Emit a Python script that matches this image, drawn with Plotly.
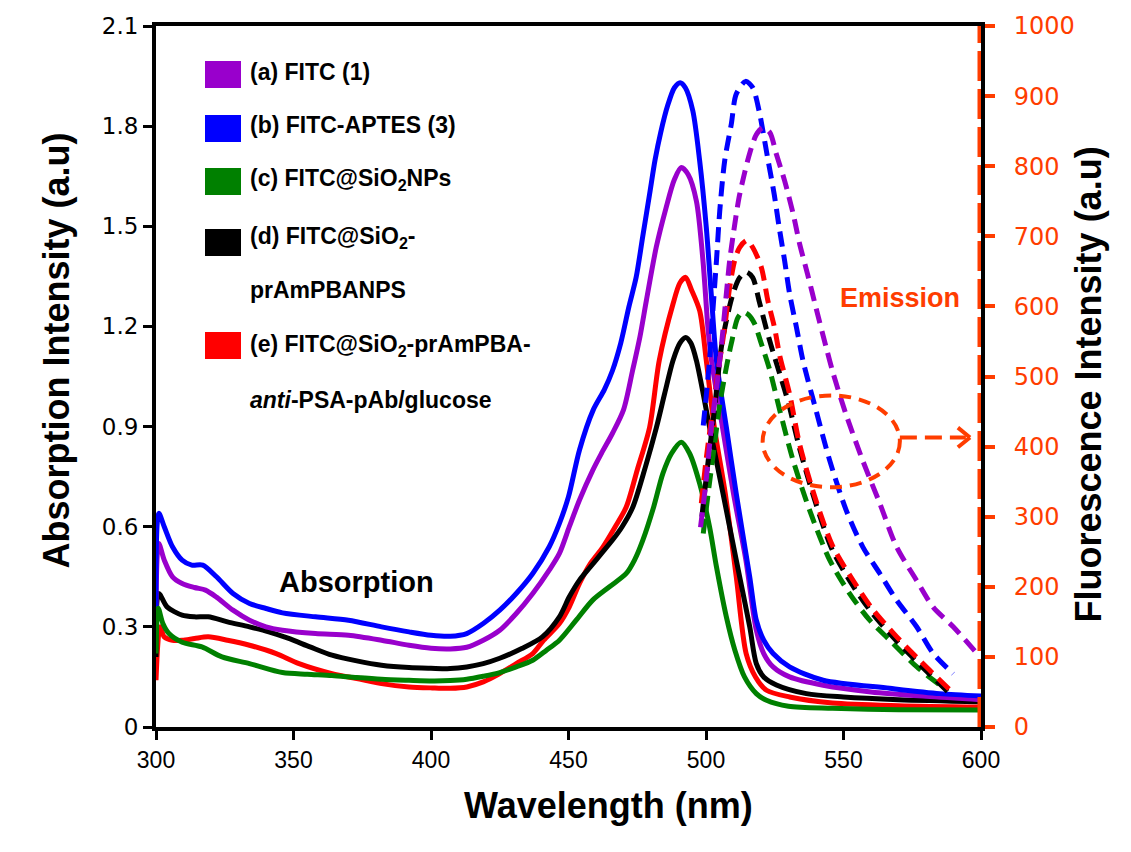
import plotly.graph_objects as go

# ---------------- data ----------------
# Absorption spectra (left axis, a.u.)
abs_a_wl = [300, 301, 303, 306, 309.5, 314, 318, 322, 328, 334, 340, 346, 358, 370, 382, 392, 400, 407, 413, 419, 425, 431, 437, 443, 446.7, 450.3, 454, 458.8, 462, 466, 470, 473.3, 476, 478.3, 481.9, 485.5, 488.5, 491, 493.5, 496.5, 498.9, 500.7, 502, 506, 510, 514.5, 518.3, 521, 524.4, 530.4, 542.6, 560, 580, 600]
abs_a = [0.35, 0.55, 0.50, 0.45, 0.43, 0.418, 0.41, 0.389, 0.35, 0.32, 0.30, 0.29, 0.28, 0.275, 0.26, 0.245, 0.236, 0.234, 0.239, 0.26, 0.29, 0.34, 0.40, 0.47, 0.52, 0.60, 0.68, 0.769, 0.82, 0.88, 0.95, 1.068, 1.17, 1.277, 1.437, 1.556, 1.64, 1.676, 1.655, 1.576, 1.397, 1.197, 1.098, 0.898, 0.699, 0.50, 0.29, 0.22, 0.18, 0.15, 0.125, 0.105, 0.092, 0.082]

abs_b_wl = [300, 301, 303, 306, 309.5, 313, 317, 322, 328, 334, 340, 346, 358, 370, 382, 392, 400, 407, 413, 419, 425, 431, 437, 443, 446.7, 450, 454, 459, 463, 466, 469, 472, 474.6, 477, 479.5, 481.5, 483.5, 486, 488.5, 490.6, 492.5, 495.2, 497.7, 500.1, 501.9, 503.8, 507.4, 511, 515.9, 518.3, 521, 524.4, 530.4, 542.6, 566.8, 585, 600]
abs_b = [0.30, 0.64, 0.60, 0.54, 0.50, 0.485, 0.485, 0.45, 0.40, 0.37, 0.355, 0.342, 0.33, 0.32, 0.30, 0.285, 0.275, 0.272, 0.28, 0.31, 0.35, 0.40, 0.46, 0.54, 0.61, 0.69, 0.83, 0.95, 1.01, 1.068, 1.15, 1.26, 1.347, 1.47, 1.597, 1.70, 1.78, 1.86, 1.915, 1.93, 1.915, 1.846, 1.696, 1.497, 1.298, 1.098, 0.898, 0.699, 0.45, 0.32, 0.26, 0.22, 0.18, 0.14, 0.116, 0.10, 0.093]

abs_c_wl = [300, 300.8, 302.5, 304.7, 309.5, 316.7, 324, 334, 346, 355, 364, 373, 382, 392, 400.5, 407, 413, 419, 425, 431, 437, 442, 446.7, 452.8, 458.8, 464.9, 471, 474, 477, 481, 484.3, 487.5, 491, 494, 497.7, 501.3, 503.8, 507.4, 510.5, 514, 518.3, 522, 530, 546, 570, 600]
abs_c = [0.22, 0.356, 0.31, 0.28, 0.254, 0.24, 0.21, 0.19, 0.163, 0.158, 0.154, 0.148, 0.143, 0.14, 0.138, 0.139, 0.143, 0.152, 0.163, 0.18, 0.20, 0.23, 0.26, 0.32, 0.38, 0.42, 0.46, 0.50, 0.559, 0.66, 0.759, 0.82, 0.853, 0.82, 0.729, 0.599, 0.48, 0.33, 0.23, 0.15, 0.10, 0.08, 0.062, 0.056, 0.052, 0.051]

abs_d_wl = [300, 301, 304, 309.5, 314, 319, 326, 334, 341, 348, 356, 364, 373, 382, 392, 400, 407, 413, 419, 425, 433, 440.5, 446.7, 450.3, 454, 458, 462, 466, 469.5, 473.4, 478, 482, 485, 488, 490.5, 492.6, 494.5, 496.5, 501.3, 506.2, 511, 515.9, 518.3, 521, 525.6, 536.5, 550, 570, 600]
abs_d = [0.21, 0.40, 0.36, 0.335, 0.33, 0.33, 0.315, 0.30, 0.285, 0.266, 0.24, 0.215, 0.198, 0.185, 0.178, 0.176, 0.175, 0.18, 0.19, 0.206, 0.235, 0.27, 0.33, 0.39, 0.44, 0.48, 0.52, 0.56, 0.60, 0.659, 0.78, 0.898, 1.00, 1.098, 1.15, 1.167, 1.15, 1.098, 0.898, 0.699, 0.50, 0.30, 0.19, 0.15, 0.126, 0.10, 0.09, 0.082, 0.076]

abs_e_wl = [300, 301.5, 303, 306, 309.5, 314, 319, 326, 334, 343.7, 352, 364, 373, 382, 392, 400.5, 407, 413, 419, 425, 431, 437, 441, 446.7, 450.3, 454, 458, 462.5, 467, 471, 475, 479.5, 483, 488, 490.5, 492.6, 494.7, 497.7, 500.1, 503, 507, 511, 514.6, 518, 522, 530.4, 546, 570, 600]
abs_e = [0.14, 0.30, 0.27, 0.26, 0.26, 0.265, 0.27, 0.26, 0.245, 0.22, 0.19, 0.16, 0.145, 0.13, 0.12, 0.117, 0.116, 0.12, 0.135, 0.16, 0.19, 0.22, 0.26, 0.31, 0.36, 0.43, 0.49, 0.539, 0.60, 0.659, 0.77, 0.898, 1.098, 1.267, 1.33, 1.347, 1.31, 1.247, 1.098, 0.90, 0.70, 0.45, 0.22, 0.15, 0.11, 0.09, 0.072, 0.064, 0.06]

# Emission spectra (right axis, a.u.)
em_a_wl = [498, 500, 502, 504, 505.5, 507.4, 508.6, 510, 512, 514, 516, 518.3, 520.7, 523.2, 525.6, 528.6, 531.7, 534, 537, 540, 543.8, 546.2, 551, 557, 563.2, 569.3, 576.6, 582.6, 589.9, 599.6]
em_a = [285, 350, 430, 490, 540, 618, 665, 705, 755, 790, 820, 845, 855, 848, 817, 779, 732, 690, 645, 598, 540, 505, 445, 380, 319, 257, 209, 171, 143, 100]

em_b_wl = [499, 501.3, 502.5, 503.8, 505, 506.8, 509.2, 511, 514.4, 517, 519.3, 522.4, 524.8, 526.6, 528.6, 530.4, 532.9, 535.3, 540, 545, 551, 557, 563.2, 569.3, 576.6, 582.6, 589.9]
em_b = [430, 523, 594, 665, 736, 808, 860, 903, 921, 912, 879, 812, 760, 713, 665, 618, 570, 522, 452, 380, 309, 257, 219, 181, 143, 105, 76]

em_c_wl = [499, 501, 503, 505, 507.4, 509.2, 511.6, 513.5, 515.5, 517.7, 520.1, 523.2, 526.8, 531.7, 537.7, 545, 552.3, 559.6, 566.8, 576.6, 587.4]
em_c = [276, 340, 400, 460, 513, 547, 584, 592, 588, 575, 547, 509, 452, 380, 309, 238, 190, 152, 124, 86, 53]

em_d_wl = [498.5, 500.5, 503, 505.6, 507.4, 509.8, 512.2, 514.7, 517, 519.3, 521.8, 524.2, 526.8, 530, 534, 540, 546, 553, 560.5, 569, 577.5, 588]
em_d = [300, 370, 450, 542, 580, 618, 641, 649, 641, 608, 570, 537, 504, 462, 398, 318, 252, 204, 162, 124, 90, 50]

em_e_wl = [498.3, 500, 502, 505, 506.8, 508.6, 510.4, 512.2, 514.9, 517, 520.1, 522.5, 524.9, 526.8, 530.4, 534, 540, 546.2, 553.5, 560.8, 569.3, 577.7, 588.7]
em_e = [319, 380, 440, 523, 570, 627, 665, 684, 694, 684, 656, 608, 570, 530, 475, 404, 323, 257, 209, 167, 129, 95, 53]

legend_labels = [
    ["<b>(a) FITC (1)</b>"],
    ["<b>(b) FITC-APTES (3)</b>"],
    ["<b>(c) FITC@SiO<sub>2</sub>NPs</b>"],
    ["<b>(d) FITC@SiO<sub>2</sub>-</b>", "<b>prAmPBANPS</b>"],
    ["<b>(e) FITC@SiO<sub>2</sub>-prAmPBA-</b>", "<b><i>anti</i>-PSA-pAb/glucose</b>"],
]

x_ticks = [300, 350, 400, 450, 500, 550, 600]
y_ticks = [0, 0.3, 0.6, 0.9, 1.2, 1.5, 1.8, 2.1]
y_tick_text = ["0", "0.3", "0.6", "0.9", "1.2", "1.5", "1.8", "2.1"]
y2_ticks = [0, 100, 200, 300, 400, 500, 600, 700, 800, 900, 1000]

# ---------------- styling ----------------
PURPLE = "#9900CC"
BLUE = "#0000FF"
GREEN = "#008000"
BLACK = "#000000"
RED = "#FF0000"
ORANGE = "#FF3D00"
FONT = "Liberation Sans, Arial, sans-serif"
TICKFONT = "DejaVu Sans, Verdana, sans-serif"

W, H = 1131, 852
L, R, T, B = 156, 981, 26, 727  # plot area in pixels


def px(xp):
    return (xp - L) / (R - L)


def py(yp):
    return (B - yp) / (B - T)


fig = go.Figure()

abs_series = [
    (abs_e_wl, abs_e, RED),
    (abs_d_wl, abs_d, BLACK),
    (abs_a_wl, abs_a, PURPLE),
    (abs_b_wl, abs_b, BLUE),
    (abs_c_wl, abs_c, GREEN),
]
for xs, ys, col in abs_series:
    fig.add_trace(go.Scatter(x=xs, y=ys, mode="lines", yaxis="y",
                             line=dict(color=col, width=5, shape="spline", smoothing=0.8),
                             showlegend=False, hoverinfo="skip"))

em_series = [
    (em_c_wl, em_c, GREEN),
    (em_d_wl, em_d, BLACK),
    (em_e_wl, em_e, RED),
    (em_b_wl, em_b, BLUE),
    (em_a_wl, em_a, PURPLE),
]
for xs, ys, col in em_series:
    fig.add_trace(go.Scatter(x=xs, y=ys, mode="lines", yaxis="y2",
                             line=dict(color=col, width=5, dash="15px,8px", shape="spline", smoothing=0.8),
                             showlegend=False, hoverinfo="skip"))

shapes = []
# dashed orange overlay on the right axis
shapes.append(dict(type="line", xref="x", yref="y2", x0=600, x1=600, y0=0, y1=1000,
                   line=dict(color=ORANGE, width=7, dash="30px,8px"), layer="above"))
# ellipse around emission curves
shapes.append(dict(type="circle", xref="x", yref="y2", x0=520.6, x1=570.5, y0=342, y1=473,
                   line=dict(color=ORANGE, width=4, dash="12px,8px"), layer="above"))
# dashed arrow pointing to the right axis
shapes.append(dict(type="line", xref="x", yref="y2", x0=570.5, x1=594.5, y0=413, y1=413,
                   line=dict(color=ORANGE, width=4, dash="17px,8px"), layer="above"))
shapes.append(dict(type="line", xref="x", yref="y2", x0=591.6, x1=596.0, y0=427, y1=413,
                   line=dict(color=ORANGE, width=4), layer="above"))
shapes.append(dict(type="line", xref="x", yref="y2", x0=591.6, x1=596.0, y0=399, y1=413,
                   line=dict(color=ORANGE, width=4), layer="above"))

# legend squares and text
legend_colors = [PURPLE, BLUE, GREEN, BLACK, RED]
sq_y = [(61, 88), (115, 142), (168, 195), (229, 256), (332, 359)]
text_y = [[72], [125], [180], [237, 290], [345, 400]]
annotations = []
for col, (y0, y1), lines, ys in zip(legend_colors, sq_y, legend_labels, text_y):
    shapes.append(dict(type="rect", xref="paper", yref="paper",
                       x0=px(205), x1=px(241), y0=py(y1), y1=py(y0),
                       fillcolor=col, line=dict(width=0)))
    for txt, yy in zip(lines, ys):
        annotations.append(dict(text=txt, xref="paper", yref="paper", x=px(248), y=py(yy),
                                xanchor="left", yanchor="middle", showarrow=False,
                                font=dict(family=FONT, size=23, color="black")))

annotations.append(dict(text="<b>Absorption</b>", xref="x", yref="y", x=373, y=0.434,
                        showarrow=False, font=dict(family=FONT, size=29, color="black")))
annotations.append(dict(text="<b>Emission</b>", xref="x", yref="y2", x=570.5, y=612,
                        showarrow=False, font=dict(family=FONT, size=27, color=ORANGE)))
# axis titles
annotations.append(dict(text="<b>Wavelength (nm)</b>", xref="paper", yref="paper",
                        x=px(608), y=py(828), showarrow=False,
                        font=dict(family=FONT, size=36, color="black")))
annotations.append(dict(text="<b>Absorption Intensity (a.u)</b>", xref="paper", yref="paper",
                        x=px(33), y=py(351), showarrow=False, textangle=-90,
                        font=dict(family=FONT, size=36, color="black")))
annotations.append(dict(text="<b>Fluorescence Intensity (a.u)</b>", xref="paper", yref="paper",
                        x=px(1110), y=py(385), showarrow=False, textangle=-90,
                        font=dict(family=FONT, size=36, color="black")))

fig.update_layout(
    width=W, height=H,
    margin=dict(l=L, r=W - R, t=T, b=H - B, pad=0),
    paper_bgcolor="white", plot_bgcolor="white",
    showlegend=False,
    shapes=shapes, annotations=annotations,
    xaxis=dict(range=[300, 600], tickvals=x_ticks, ticks="outside", ticklen=9, tickwidth=3,
               tickcolor="black", showline=True, linecolor="black", linewidth=4, mirror=True,
               showgrid=False, zeroline=False,
               tickfont=dict(family=FONT, size=23, color="black")),
    yaxis=dict(range=[0, 2.1], tickvals=y_ticks, ticktext=y_tick_text, ticks="outside",
               ticklen=9, tickwidth=3, tickcolor="black", showline=True, linecolor="black",
               linewidth=4, showgrid=False, zeroline=False,
               tickfont=dict(family=TICKFONT, size=23, color="black")),
    yaxis2=dict(range=[0, 1000], tickvals=y2_ticks, overlaying="y", side="right",
                ticks="outside", ticklen=10, tickwidth=4, tickcolor=ORANGE,
                ticklabelstandoff=14,
                showline=True, linecolor="black", linewidth=4, showgrid=False, zeroline=False,
                tickfont=dict(family=TICKFONT, size=24, color=ORANGE)),
)

fig.write_html("out.html")
